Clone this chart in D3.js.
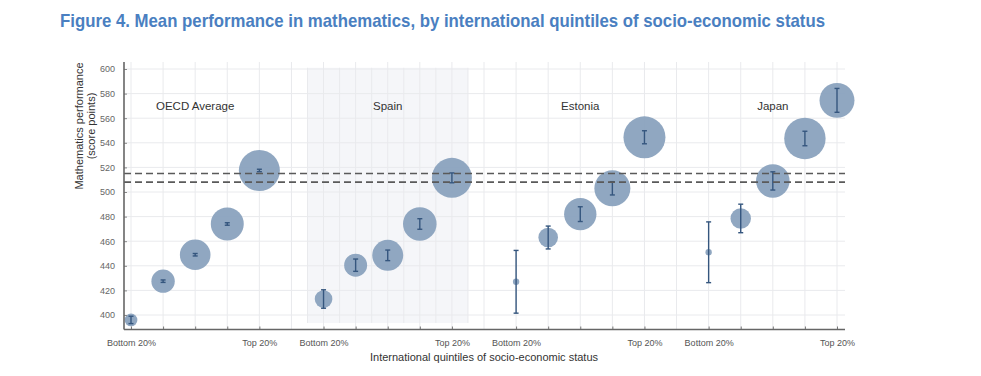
<!DOCTYPE html>
<html><head><meta charset="utf-8">
<script src="https://cdn.jsdelivr.net/npm/d3@7"></script>
<style>
html,body{margin:0;padding:0;background:#fff;}
svg{display:block;}
</style></head>
<body>
<script>
// ---- data ----
const groups = ["OECD Average", "Spain", "Estonia", "Japan"];
const quintileLabels = ["Bottom 20%", "", "", "", "Top 20%"];
const yTicks = [400, 420, 440, 460, 480, 500, 520, 540, 560, 580, 600];
const meanOECD    = [396, 427.5, 449, 474, 517.5];
const meanSpain   = [413, 440.5, 448.5, 474, 511.5];
const meanEstonia = [427, 463, 482, 503, 544.5];
const meanJapan   = [451, 478.5, 509, 543.5, 574.5];
const ciOECD    = [3, 1, 1, 1, 1];
const ciSpain   = [7.5, 5, 4.3, 4.3, 4];
const ciEstonia = [25.5, 9.3, 6, 5.4, 5.3];
const ciJapan   = [24.7, 11.6, 7.4, 5.9, 9.7];
const sizeOECD    = [2.4, 8.1, 13.9, 16.1, 24.9];
const sizeSpain   = [4.6, 7.8, 14.2, 16.7, 23.7];
const sizeEstonia = [0.6, 5.7, 15.5, 19.2, 26.1];
const sizeJapan   = [0.6, 6.2, 16.7, 25.4, 18.1];
const refLines = [515, 508];
const highlightGroup = "Spain";

const means = [meanOECD, meanSpain, meanEstonia, meanJapan];
const cis = [ciOECD, ciSpain, ciEstonia, ciJapan];
const sizes = [sizeOECD, sizeSpain, sizeEstonia, sizeJapan];

const points = [];
groups.forEach((g, gi) => {
  for (let q = 0; q < 5; q++) {
    points.push({group: g, gi, q, slot: gi * 6 + q, mean: means[gi][q], ci: cis[gi][q], size: sizes[gi][q]});
  }
});

// ---- layout ----
const W = 981, H = 376;
const plotL = 124, plotR = 845, plotT = 62, plotB = 329.5;

const svg = d3.select("body").append("svg").attr("width", W).attr("height", H);

const x = d3.scaleLinear().domain([0, 22]).range([131, 837]);
const y = d3.scaleLinear().domain([400, 600]).range([315, 69]);
const r = d3.scaleSqrt().domain([0, 30]).range([0, 22.5]);

// title
svg.append("text")
  .attr("x", 60).attr("y", 27)
  .attr("font-family", "'Liberation Sans Narrow','Arial Narrow','Liberation Sans',Arial,sans-serif")
  .attr("font-weight", "bold").attr("font-size", 19)
  .attr("fill", "#4a7fc1")
  .attr("textLength", 765).attr("lengthAdjust", "spacingAndGlyphs")
  .text("Figure 4. Mean performance in mathematics, by international quintiles of socio-economic status");

// highlight band for Spain
const hi = groups.indexOf(highlightGroup);
svg.append("rect")
  .attr("x", x(hi * 6 - 0.5)).attr("y", y(601))
  .attr("width", x(hi * 6 + 4.5) - x(hi * 6 - 0.5))
  .attr("height", y(393.5) - y(601))
  .attr("fill", "#f5f6f9");

// grid
const grid = svg.append("g").attr("stroke", "#e9eaed").attr("stroke-width", 1);
grid.selectAll("line.h").data(yTicks).join("line")
  .attr("x1", plotL).attr("x2", plotR)
  .attr("y1", d => y(d)).attr("y2", d => y(d));
grid.selectAll("line.v").data(d3.range(0, 23)).join("line")
  .attr("x1", d => x(d)).attr("x2", d => x(d))
  .attr("y1", plotT).attr("y2", plotB);
grid.selectAll("line.vh").data(d3.range(hi * 6 - 0.5, hi * 6 + 5, 1)).join("line")
  .attr("x1", d => x(d)).attr("x2", d => x(d))
  .attr("y1", y(601)).attr("y2", y(393.5));

// bubbles
svg.append("g").selectAll("circle").data(points).join("circle")
  .attr("cx", d => x(d.slot)).attr("cy", d => y(d.mean))
  .attr("r", d => r(d.size))
  .attr("fill", "#8aa2be").attr("fill-opacity", 0.95);

// error bars
const eb = svg.append("g").attr("stroke", "#35567e").attr("stroke-width", 1.4);
points.forEach(d => {
  const cx = x(d.slot);
  eb.append("line").attr("x1", cx).attr("x2", cx).attr("y1", y(d.mean - d.ci)).attr("y2", y(d.mean + d.ci));
  eb.append("line").attr("x1", cx - 2.5).attr("x2", cx + 2.5).attr("y1", y(d.mean - d.ci)).attr("y2", y(d.mean - d.ci));
  eb.append("line").attr("x1", cx - 2.5).attr("x2", cx + 2.5).attr("y1", y(d.mean + d.ci)).attr("y2", y(d.mean + d.ci));
});

// reference dashed lines
svg.append("g").selectAll("line").data(refLines).join("line")
  .attr("x1", plotL).attr("x2", plotR)
  .attr("y1", d => y(d)).attr("y2", d => y(d))
  .attr("stroke", "#5a5a5a").attr("stroke-width", 1.6)
  .attr("stroke-dasharray", "7,4");

// group labels
svg.append("g").selectAll("text").data(groups).join("text")
  .attr("x", (d, i) => x(i * 6 + 2)).attr("y", 110)
  .attr("text-anchor", "middle")
  .attr("font-family", "'Liberation Sans',Arial,sans-serif").attr("font-size", 11.5)
  .attr("fill", "#333").text(d => d);

// y axis
const yAxisG = svg.append("g").attr("transform", `translate(${plotL},0)`)
  .call(d3.axisRight(y).tickValues(yTicks).tickSize(3).tickFormat(d3.format("d")));
yAxisG.select(".domain").remove();
yAxisG.selectAll(".tick line").attr("stroke", "#888");
yAxisG.selectAll(".tick text").attr("x", -9).attr("text-anchor", "end")
  .attr("font-family", "'Liberation Sans',Arial,sans-serif").attr("font-size", 9).attr("fill", "#666");
svg.append("line").attr("x1", plotL).attr("x2", plotL).attr("y1", plotT).attr("y2", plotB)
  .attr("stroke", "#666").attr("stroke-width", 1.6);

// x axis
const xAxisG = svg.append("g").attr("transform", `translate(0,${plotB})`)
  .call(d3.axisTop(x).tickValues(points.map(p => p.slot)).tickSize(3)
    .tickFormat(d => quintileLabels[d % 6]));
xAxisG.select(".domain").remove();
xAxisG.selectAll(".tick line").attr("stroke", "#777");
xAxisG.selectAll(".tick text").attr("y", 16)
  .attr("font-family", "'Liberation Sans Narrow','Arial Narrow','Liberation Sans',Arial,sans-serif")
  .attr("font-size", 9).attr("fill", "#555");
svg.append("line").attr("x1", plotL).attr("x2", plotR).attr("y1", plotB).attr("y2", plotB)
  .attr("stroke", "#666").attr("stroke-width", 1.6);

// axis titles
svg.append("text").attr("x", 484).attr("y", 361).attr("text-anchor", "middle")
  .attr("font-family", "'Liberation Sans',Arial,sans-serif").attr("font-size", 11).attr("fill", "#333")
  .text("International quintiles of socio-economic status");
const yt = svg.append("text").attr("transform", "translate(83,126) rotate(-90)")
  .attr("text-anchor", "middle")
  .attr("font-family", "'Liberation Sans',Arial,sans-serif").attr("font-size", 11).attr("fill", "#333");
yt.append("tspan").attr("x", 0).attr("y", 0).text("Mathematics performance");
yt.append("tspan").attr("x", 0).attr("y", 12).text("(score points)");
</script>
</body></html>
